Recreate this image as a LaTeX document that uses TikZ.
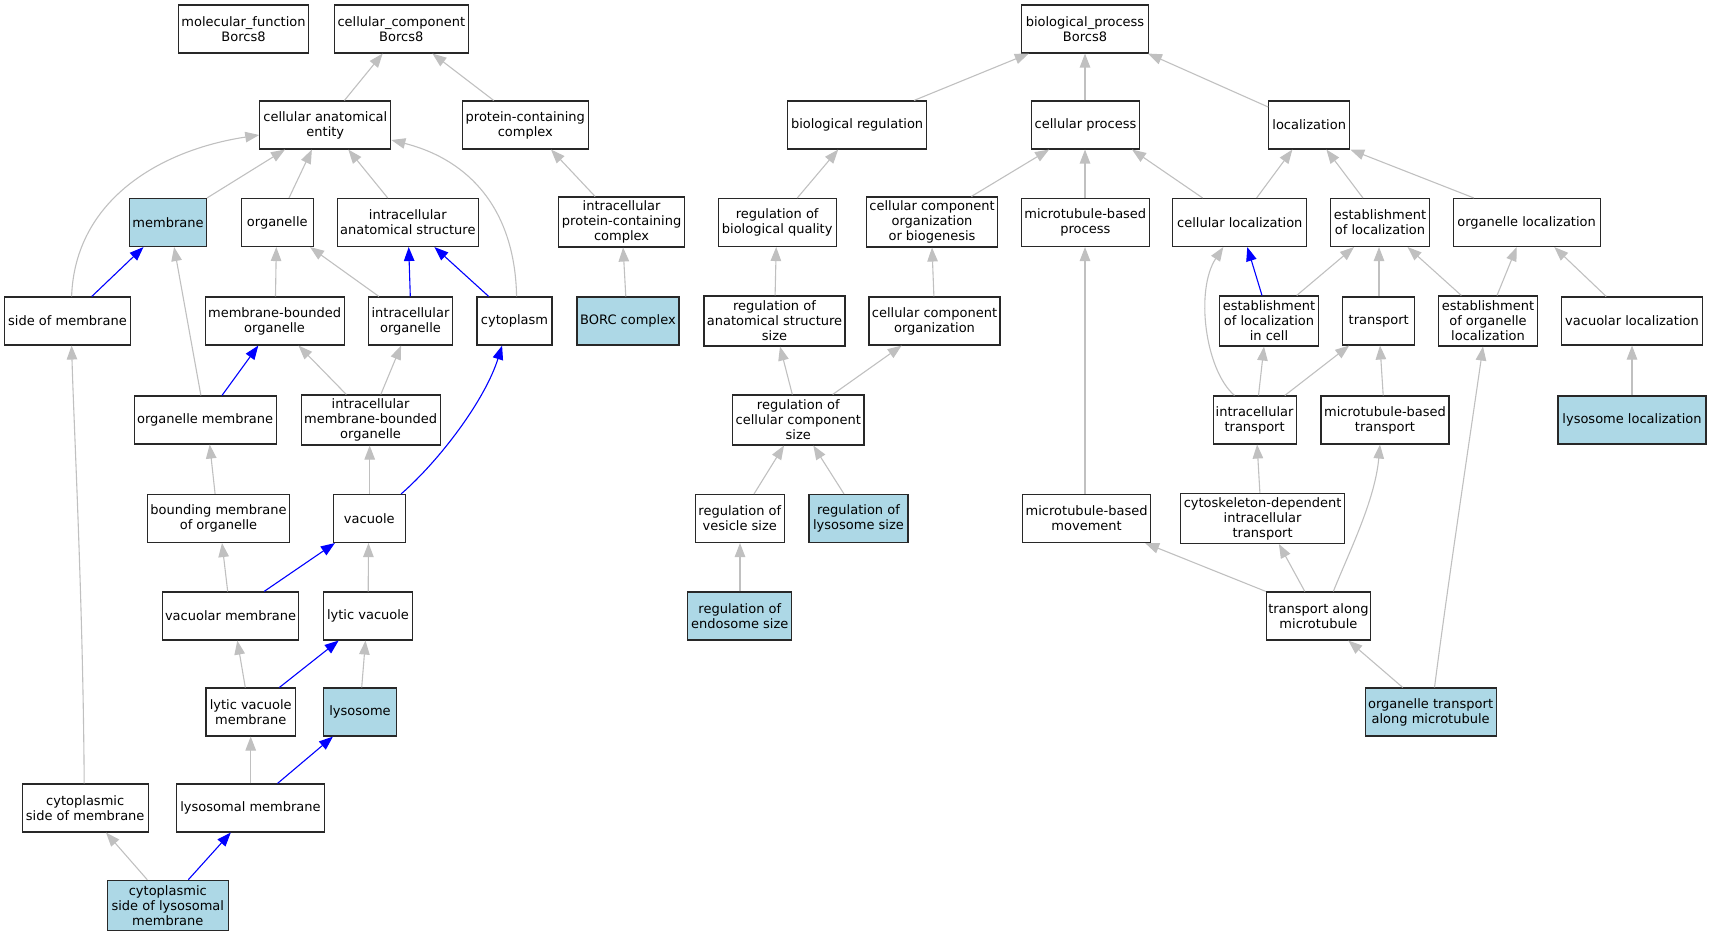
\documentclass[tikz,border=0pt]{standalone}
\usepackage{fontspec}
\setmainfont{DejaVu Sans}
\usetikzlibrary{arrows.meta}
\definecolor{edgegray}{RGB}{192,192,192}
\definecolor{hlblue}{RGB}{173,216,230}
\definecolor{boxline}{RGB}{40,40,40}
\tikzset{
  box/.style={draw=boxline, line width=1.1pt, fill=white, rectangle, align=center,
    minimum height=48pt, inner xsep=1pt, inner ysep=1pt,
    font=\fontsize{13}{15}\selectfont},
  hl/.style={box, fill=hlblue},
  tall/.style={minimum height=50pt},
  ge/.style={draw=edgegray, line width=1.1pt, -{Triangle[length=14pt,width=10.5pt]}},
  be/.style={ge, draw=blue},
}
\begin{document}
\begin{tikzpicture}[x=1pt,y=-1pt]
\useasboundingbox (0,0) rectangle (1711,936);
% ---------- cellular component ----------
\node[box, minimum width=130] (mf) at (243.5,29) {molecular\_function\\Borcs8};
\node[box, minimum width=134] (ccomp) at (401.3,29) {cellular\_component\\Borcs8};
\node[box, minimum width=131] (cae) at (325.3,125) {cellular anatomical\\entity};
\node[box, minimum width=126] (pcc) at (525.3,125) {protein-containing\\complex};
\node[hl, minimum width=77] (mem) at (168,222.5) {membrane};
\node[box, minimum width=72] (org) at (277.3,222.5) {organelle};
\node[box, minimum width=141] (ias) at (407.8,222.5) {intracellular\\anatomical structure};
\node[box, tall, minimum width=126] (ipcc) at (621.6,222) {intracellular\\protein-containing\\complex};
\node[box, minimum width=126] (som) at (67.5,321) {side of membrane};
\node[box, minimum width=139] (mbo) at (274.6,321) {membrane-bounded\\organelle};
\node[box, minimum width=84] (io) at (410.5,321) {intracellular\\organelle};
\node[box, minimum width=75] (cyt) at (514.5,321) {cytoplasm};
\node[hl, minimum width=102] (borc) at (628,321) {BORC complex};
\node[box, minimum width=142] (om) at (205.1,420) {organelle membrane};
\node[box, tall, minimum width=139] (imbo) at (370.6,420) {intracellular\\membrane-bounded\\organelle};
\node[box, minimum width=141.6] (bmo) at (218.5,518.5) {bounding membrane\\of organelle};
\node[box, minimum width=72] (vac) at (369.3,518.5) {vacuole};
\node[box, minimum width=136.6] (vm) at (230.6,616) {vacuolar membrane};
\node[box, minimum width=88.4] (lv) at (368,616) {lytic vacuole};
\node[box, minimum width=89.5] (lvm) at (250.7,712) {lytic vacuole\\membrane};
\node[hl, minimum width=72.3] (lys) at (360,712) {lysosome};
\node[box, minimum width=126] (csm) at (85.2,808) {cytoplasmic\\side of membrane};
\node[box, minimum width=148] (lm) at (250.5,808) {lysosomal membrane};
\node[hl, tall, minimum width=120.6] (cslm) at (167.8,905.3) {cytoplasmic\\side of lysosomal\\membrane};
% ---------- biological process ----------
\node[box, minimum width=126.3] (bp) at (1085,29) {biological\_process\\Borcs8};
\node[box, minimum width=139] (br) at (857.1,125) {biological regulation};
\node[box, minimum width=108] (cp) at (1085.5,125) {cellular process};
\node[box, minimum width=81] (loc) at (1309.2,125) {localization};
\node[box, minimum width=118.3] (rbq) at (777.2,222.5) {regulation of\\biological quality};
\node[box, tall, minimum width=131] (ccob) at (932,222) {cellular component\\organization\\or biogenesis};
\node[box, minimum width=128] (mbp) at (1085.3,222.5) {microtubule-based\\process};
\node[box, minimum width=134] (cl) at (1239.8,222.5) {cellular localization};
\node[box, minimum width=98.7] (eol) at (1380,222.5) {establishment\\of localization};
\node[box, minimum width=147] (ol) at (1526.6,222.5) {organelle localization};
\node[box, tall, minimum width=141] (rass) at (774.5,321) {regulation of\\anatomical structure\\size};
\node[box, minimum width=131] (cco) at (934.5,321) {cellular component\\organization};
\node[box, tall, minimum width=98.4] (elic) at (1269,321) {establishment\\of localization\\in cell};
\node[box, minimum width=72.3] (tr) at (1378.7,321) {transport};
\node[box, tall, minimum width=98.4] (eool) at (1488,321) {establishment\\of organelle\\localization};
\node[box, minimum width=141.7] (vl) at (1632,321) {vacuolar localization};
\node[box, tall, minimum width=131.3] (rccs) at (798.3,420) {regulation of\\cellular component\\size};
\node[box, minimum width=83] (it) at (1254.6,420) {intracellular\\transport};
\node[box, minimum width=128] (mbt) at (1385,420) {microtubule-based\\transport};
\node[hl, minimum width=148] (ll) at (1632,420) {lysosome localization};
\node[box, minimum width=89] (rvs) at (739.8,518.5) {regulation of\\vesicle size};
\node[hl, minimum width=99] (rls) at (858.5,518.5) {regulation of\\lysosome size};
\node[box, minimum width=128] (mbm) at (1086.6,518.5) {microtubule-based\\movement};
\node[box, tall, minimum width=164] (cdit) at (1262.6,518.5) {cytoskeleton-dependent\\intracellular\\transport};
\node[hl, minimum width=104] (res) at (739.8,616) {regulation of\\endosome size};
\node[box, minimum width=104] (tam) at (1318.4,616) {transport along\\microtubule};
\node[hl, minimum width=131] (otam) at (1430.6,712) {organelle transport\\along microtubule};
% ---------- edges: cellular component ----------
\draw[ge] (344.4,0 |- cae.north) -- (382.7,0 |- ccomp.south);
\draw[ge] (493.7,0 |- pcc.north) -- (432.4,0 |- ccomp.south);
\draw[ge] (71.6,0 |- som.north) .. controls (75,200) and (160,150) .. (cae.west |- 0,135);
\draw[ge] (mem.north east) -- (285,0 |- cae.south);
\draw[ge] (289,0 |- org.north) -- (311.9,0 |- cae.south);
\draw[ge] (387.7,0 |- ias.north) -- (348.3,0 |- cae.south);
\draw[ge] (516.6,0 |- cyt.north) .. controls (515,210) and (470,160) .. (cae.east |- 0,140);
\draw[ge] (595.1,0 |- ipcc.north) -- (551,0 |- pcc.south);
\draw[be] (91.8,0 |- som.north) -- (143.5,0 |- mem.south);
\draw[ge] (200.9,0 |- om.north) -- (174.1,0 |- mem.south);
\draw[ge] (275.5,0 |- mbo.north) -- (276.3,0 |- org.south);
\draw[ge] (378.9,0 |- io.north) -- (310,0 |- org.south);
\draw[be] (410.3,0 |- io.north) -- (408.7,0 |- ias.south);
\draw[be] (488.7,0 |- cyt.north) -- (434.4,0 |- ias.south);
\draw[ge] (625.8,0 |- borc.north) -- (623.1,0 |- ipcc.south);
\draw[ge] (84.2,0 |- csm.north) .. controls (83,600) and (74,430) .. (71.6,0 |- som.south);
\draw[be] (222,0 |- om.north) -- (258.3,0 |- mbo.south);
\draw[ge] (346.3,0 |- imbo.north) -- (298.5,0 |- mbo.south);
\draw[ge] (380.8,0 |- imbo.north) -- (401.1,0 |- io.south);
\draw[be] (401.1,0 |- vac.north) .. controls (440,460) and (485,400) .. (502.1,0 |- cyt.south);
\draw[ge] (215.1,0 |- bmo.north) -- (209.7,0 |- om.south);
\draw[ge] (369.7,0 |- vac.north) -- (369.7,0 |- imbo.south);
\draw[ge] (227.7,0 |- vm.north) -- (222,0 |- bmo.south);
\draw[be] (264.1,0 |- vm.north) -- (334.9,0 |- vac.south);
\draw[ge] (368.2,0 |- lv.north) -- (368.5,0 |- vac.south);
\draw[ge] (245.3,0 |- lvm.north) -- (237.3,0 |- vm.south);
\draw[be] (279.4,0 |- lvm.north) -- (338.7,0 |- lv.south);
\draw[ge] (361.7,0 |- lys.north) -- (365.5,0 |- lv.south);
\draw[ge] (250.7,0 |- lm.north) -- (250.7,0 |- lvm.south);
\draw[be] (277.5,0 |- lm.north) -- (333,0 |- lys.south);
\draw[ge] (147.3,0 |- cslm.north) -- (106,0 |- csm.south);
\draw[be] (188.3,0 |- cslm.north) -- (230.8,0 |- lm.south);
% ---------- edges: biological process ----------
\draw[ge] (914,0 |- br.north) -- (1028.8,0 |- bp.south);
\draw[ge] (1085,0 |- cp.north) -- (1085,0 |- bp.south);
\draw[ge] (loc.west |- 0,107) -- (1148,0 |- bp.south);
\draw[ge] (797.3,0 |- rbq.north) -- (838.2,0 |- br.south);
\draw[ge] (971.4,0 |- ccob.north) -- (1049.1,0 |- cp.south);
\draw[ge] (1085,0 |- mbp.north) -- (1085,0 |- cp.south);
\draw[ge] (1202.6,0 |- cl.north) -- (1132,0 |- cp.south);
\draw[ge] (775.1,0 |- rass.north) -- (776.2,0 |- rbq.south);
\draw[ge] (933.9,0 |- cco.north) -- (932,0 |- ccob.south);
\draw[ge] (1085,0 |- mbm.north) -- (1085,0 |- mbp.south);
\draw[ge] (792.3,0 |- rccs.north) -- (780,0 |- rass.south);
\draw[ge] (832.7,0 |- rccs.north) -- (901.7,0 |- cco.south);
\draw[ge] (754,0 |- rvs.north) -- (784,0 |- rccs.south);
\draw[ge] (844,0 |- rls.north) -- (813.3,0 |- rccs.south);
\draw[ge] (740,0 |- res.north) -- (740,0 |- rvs.south);
\draw[ge] (1256.6,0 |- cl.north) -- (1292.4,0 |- loc.south);
\draw[ge] (1362.9,0 |- eol.north) -- (1326.4,0 |- loc.south);
\draw[ge] (1473.8,0 |- ol.north) -- (loc.south east);
\draw[be] (1262,0 |- elic.north) -- (1247.3,0 |- cl.south);
\draw[ge] (1296.7,0 |- elic.north) -- (1354,0 |- eol.south);
\draw[ge] (1379,0 |- tr.north) -- (1379,0 |- eol.south);
\draw[ge] (1461.3,0 |- eool.north) -- (1407.6,0 |- eol.south);
\draw[ge] (1497,0 |- eool.north) -- (1516.7,0 |- ol.south);
\draw[ge] (1606.2,0 |- vl.north) -- (1554.3,0 |- ol.south);
\draw[ge] (1234.5,0 |- it.north) .. controls (1205,370) and (1195,290) .. (1223.3,0 |- cl.south);
\draw[ge] (1258.5,0 |- it.north) -- (1264,0 |- elic.south);
\draw[ge] (1284.8,0 |- it.north) -- (1349.2,0 |- tr.south);
\draw[ge] (1383.2,0 |- mbt.north) -- (1380,0 |- tr.south);
\draw[ge] (1632,0 |- ll.north) -- (1632,0 |- vl.south);
\draw[ge] (1259.9,0 |- cdit.north) -- (1257.1,0 |- it.south);
\draw[ge] (tam.north west) -- (1145.1,0 |- mbm.south);
\draw[ge] (1304.8,0 |- tam.north) -- (1278.9,0 |- cdit.south);
\draw[ge] (1333.3,0 |- tam.north) .. controls (1350,550) and (1375,500) .. (1380,0 |- mbt.south);
\draw[ge] (1402.7,0 |- otam.north) -- (1348.3,0 |- tam.south);
\draw[ge] (1434.5,0 |- otam.north) .. controls (1447,590) and (1468,450) .. (1483,0 |- eool.south);
\end{tikzpicture}
\end{document}
